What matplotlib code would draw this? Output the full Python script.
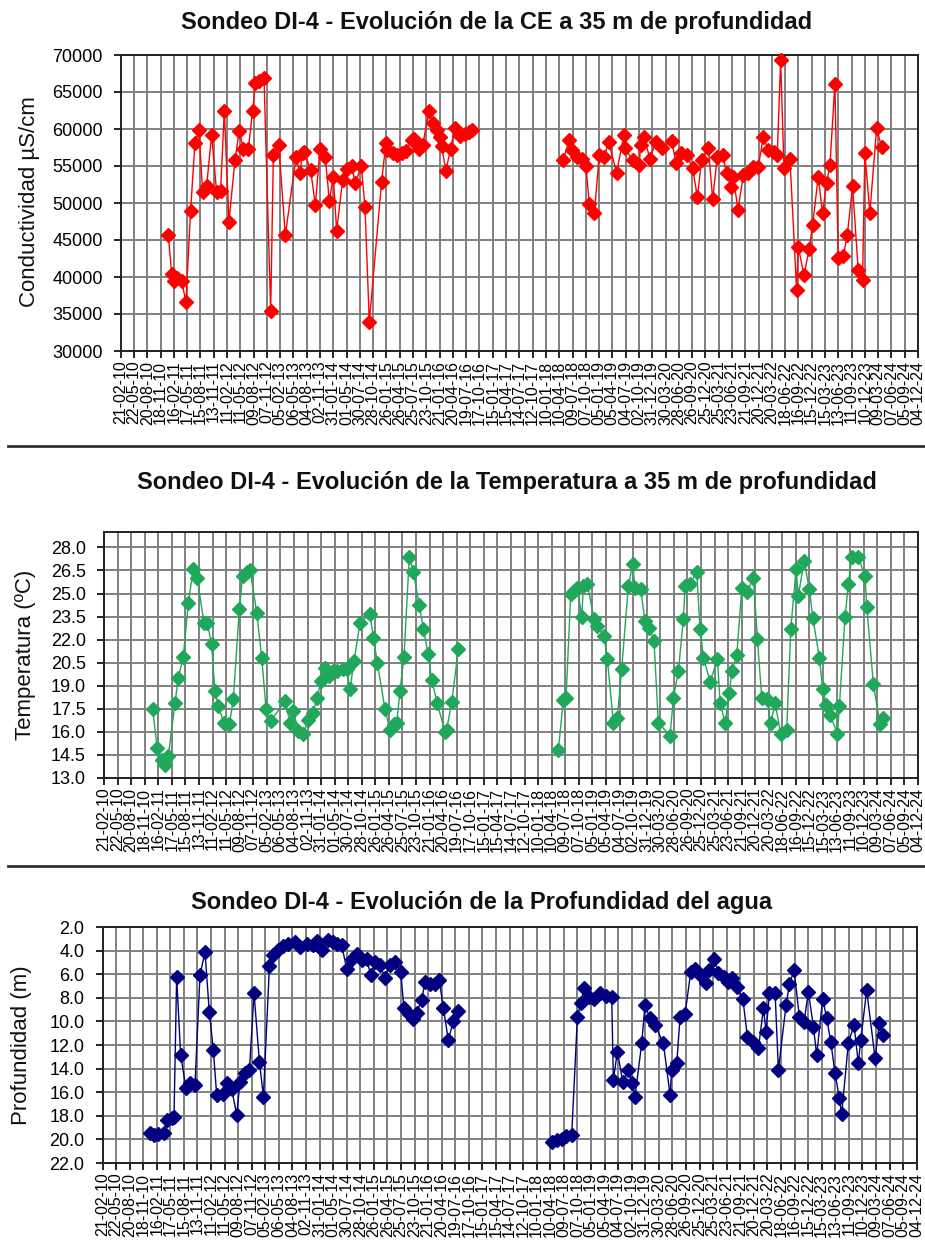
import matplotlib
matplotlib.use('Agg')
import matplotlib.pyplot as plt
import matplotlib.dates as mdates
from matplotlib.lines import Line2D
import pandas as pd

plt.rcParams['font.family'] = ['Liberation Sans', 'DejaVu Sans']

ce_year = [2011.023, 2011.085, 2011.128, 2011.190, 2011.270, 2011.350, 2011.437, 2011.517, 2011.591, 2011.660,
           2011.734, 2011.827, 2011.919, 2011.993, 2012.062, 2012.148, 2012.259, 2012.339, 2012.414, 2012.506,
           2012.587, 2012.636, 2012.710, 2012.797, 2012.920, 2012.970, 2013.069, 2013.192, 2013.390, 2013.464,
           2013.514, 2013.538, 2013.662, 2013.749, 2013.835, 2013.934, 2014.008, 2014.082, 2014.144, 2014.255,
           2014.342, 2014.422, 2014.490, 2014.601, 2014.670, 2014.750, 2014.978, 2015.059, 2015.083, 2015.182,
           2015.269, 2015.349, 2015.430, 2015.535, 2015.578, 2015.677, 2015.739, 2015.862, 2015.936, 2015.998,
           2016.060, 2016.091, 2016.171, 2016.258, 2016.338, 2016.431, 2016.524, 2016.604, 2016.647,
           2018.347, 2018.458, 2018.502, 2018.607, 2018.687, 2018.767, 2018.829, 2018.922, 2019.015, 2019.101,
           2019.188, 2019.336, 2019.472, 2019.491, 2019.633, 2019.756, 2019.781, 2019.843, 2019.954, 2020.065,
           2020.171, 2020.356, 2020.436, 2020.523, 2020.634, 2020.745, 2020.832, 2020.912, 2021.036, 2021.116,
           2021.202, 2021.302, 2021.375, 2021.450, 2021.499, 2021.586, 2021.685, 2021.777, 2021.870, 2021.963,
           2022.055, 2022.148, 2022.254, 2022.315, 2022.377, 2022.439, 2022.550, 2022.673, 2022.704, 2022.810,
           2022.908, 2022.970, 2023.075, 2023.155, 2023.230, 2023.292, 2023.384, 2023.446, 2023.539, 2023.613,
           2023.712, 2023.817, 2023.897, 2023.940, 2024.033, 2024.157, 2024.249]
ce_value = [45650, 40450, 39450, 39800, 39450, 36650, 48950, 58050, 59850, 51500,
            52300, 59200, 51500, 51650, 62450, 47450, 55800, 59750, 57350, 57350,
            62450, 66250, 66550, 66850, 35400, 56450, 57900, 45650, 56150, 54100,
            56700, 56900, 54450, 49700, 57350, 56150, 50300, 53550, 46250, 53100,
            54650, 55000, 52650, 55000, 49500, 33900, 52850, 58150, 57150, 56700,
            56450, 56700, 57050, 58500, 58700, 57350, 57800, 62450, 60750, 59850,
            58950, 57700, 54350, 57350, 60100, 59050, 59300, 59650, 59850,
            55800, 58500, 57150, 56150, 56000, 55000, 49900, 48600, 56500, 56150,
            58300, 54100, 59200, 57400, 55800, 55100, 57800, 58950, 56000, 58300,
            57400, 58400, 55400, 56700, 56500, 54700, 50800, 55800, 57400, 50500,
            56250, 56500, 54000, 52200, 53500, 49100, 53800, 54100, 54900, 54900,
            58950, 57150, 56900, 56500, 69300, 54700, 56000, 38300, 44100, 40250,
            43850, 47000, 53550, 48600, 52750, 55100, 66100, 42600, 42800, 45650,
            52250, 40900, 39650, 56700, 48700, 60100, 57600]

temp_year = [2011.024, 2011.108, 2011.187, 2011.248, 2011.308, 2011.429, 2011.490, 2011.581, 2011.672, 2011.762,
             2011.835, 2011.956, 2012.017, 2012.095, 2012.156, 2012.217, 2012.319, 2012.416, 2012.489, 2012.598,
             2012.659, 2012.731, 2012.792, 2012.913, 2013.004, 2013.082, 2013.167, 2013.428, 2013.518, 2013.579,
             2013.670, 2013.761, 2013.851, 2013.931, 2014.015, 2014.075, 2014.154, 2014.233, 2014.293, 2014.378,
             2014.475, 2014.548, 2014.608, 2014.681, 2014.790, 2014.972, 2015.032, 2015.105, 2015.244, 2015.335,
             2015.407, 2015.456, 2015.517, 2015.589, 2015.686, 2015.759, 2015.868, 2015.940, 2016.031, 2016.092,
             2016.195, 2016.334, 2016.365, 2016.455, 2016.576,
             2018.393, 2018.483, 2018.532, 2018.617, 2018.677, 2018.738, 2018.817, 2018.847, 2018.920, 2019.041,
             2019.101, 2019.222, 2019.283, 2019.392, 2019.464, 2019.543, 2019.664, 2019.743, 2019.785, 2019.888,
             2019.967, 2020.046, 2020.130, 2020.209, 2020.421, 2020.482, 2020.572, 2020.663, 2020.694, 2020.784,
             2020.905, 2020.966, 2021.027, 2021.148, 2021.281, 2021.329, 2021.420, 2021.499, 2021.541, 2021.632,
             2021.723, 2021.814, 2021.935, 2022.008, 2022.086, 2022.177, 2022.250, 2022.328, 2022.431, 2022.540,
             2022.613, 2022.710, 2022.752, 2022.855, 2022.952, 2023.013, 2023.134, 2023.194, 2023.255, 2023.327,
             2023.461, 2023.497, 2023.600, 2023.661, 2023.721, 2023.842, 2023.964, 2023.994, 2024.115, 2024.236,
             2024.296]
temp_value = [17.46, 14.96, 14.20, 13.87, 14.41, 17.85, 19.52, 20.89, 24.41, 26.59,
              25.98, 23.11, 23.07, 21.70, 18.65, 17.67, 16.59, 16.48, 18.11, 24.02,
              26.15, 26.41, 26.54, 23.76, 20.83, 17.50, 16.70, 18.00, 16.59, 17.35,
              16.04, 15.89, 16.76, 17.24, 18.22, 19.30, 20.17, 19.63, 19.96, 19.96,
              20.06, 20.06, 18.76, 20.61, 23.11, 23.65, 22.13, 20.50, 17.46, 16.15,
              16.48, 16.59, 18.65, 20.89, 27.35, 26.41, 24.24, 22.72, 21.04, 19.37,
              17.85, 15.98, 16.15, 17.93, 21.37,
              14.85, 18.07, 18.22, 24.96, 25.17, 25.33, 23.50, 25.50, 25.61, 23.33,
              22.89, 22.24, 20.72, 16.59, 16.91, 20.06, 25.50, 26.91, 25.39, 25.28,
              23.22, 22.78, 21.91, 16.59, 15.76, 18.22, 19.96, 23.33, 25.50, 25.61,
              26.41, 22.67, 20.83, 19.24, 20.76, 17.89, 16.59, 18.54, 19.96, 20.98,
              25.33, 25.07, 26.04, 22.02, 18.22, 18.11, 16.59, 17.89, 15.89, 16.15,
              22.67, 26.59, 24.85, 27.13, 25.28, 23.43, 20.83, 18.76, 17.78, 17.13,
              15.89, 17.67, 23.50, 25.61, 27.35, 27.35, 26.11, 24.15, 19.09, 16.48,
              16.91]

depth_year = [2011.003, 2011.076, 2011.154, 2011.257, 2011.305, 2011.396, 2011.439, 2011.487, 2011.560, 2011.657,
              2011.729, 2011.820, 2011.911, 2012.002, 2012.080, 2012.153, 2012.214, 2012.323, 2012.395, 2012.486,
              2012.577, 2012.637, 2012.728, 2012.807, 2012.891, 2012.988, 2013.061, 2013.170, 2013.243, 2013.333,
              2013.424, 2013.515, 2013.636, 2013.727, 2013.848, 2013.969, 2014.029, 2014.120, 2014.242, 2014.332,
              2014.405, 2014.483, 2014.574, 2014.665, 2014.756, 2014.847, 2014.937, 2015.010, 2015.089, 2015.180,
              2015.270, 2015.361, 2015.452, 2015.555, 2015.615, 2015.712, 2015.773, 2015.845, 2015.936, 2015.997,
              2016.087, 2016.178, 2016.257, 2016.330, 2016.420, 2016.511, 2016.602,
              2018.297, 2018.388, 2018.479, 2018.557, 2018.660, 2018.763, 2018.824, 2018.884, 2018.981, 2019.066,
              2019.175, 2019.284, 2019.387, 2019.417, 2019.490, 2019.587, 2019.690, 2019.750, 2019.810, 2019.932,
              2019.992, 2020.083, 2020.174, 2020.325, 2020.446, 2020.476, 2020.567, 2020.628, 2020.718, 2020.821,
              2020.900, 2020.991, 2021.100, 2021.160, 2021.245, 2021.324, 2021.427, 2021.506, 2021.566, 2021.669,
              2021.766, 2021.850, 2021.947, 2022.050, 2022.141, 2022.189, 2022.250, 2022.353, 2022.413, 2022.552,
              2022.613, 2022.698, 2022.794, 2022.879, 2022.958, 2023.049, 2023.109, 2023.218, 2023.291, 2023.364,
              2023.442, 2023.521, 2023.563, 2023.685, 2023.787, 2023.866, 2023.909, 2024.017, 2024.169, 2024.247,
              2024.308]
depth_value = [19.47, 19.61, 19.52, 19.47, 18.34, 18.20, 18.06, 6.23, 12.85, 15.66,
               15.18, 15.38, 6.08, 4.11, 9.18, 12.42, 16.23, 16.14, 15.18, 15.75,
               17.92, 15.10, 14.39, 14.11, 7.63, 13.41, 16.37, 5.32, 4.39, 3.97,
               3.63, 3.46, 3.27, 3.69, 3.41, 3.55, 3.18, 3.97, 3.07, 3.27,
               3.46, 3.55, 5.52, 4.68, 4.31, 4.82, 4.68, 6.08, 4.96, 5.24,
               6.28, 5.24, 4.96, 5.80, 8.90, 9.38, 9.83, 9.27, 8.20, 6.65,
               6.85, 6.79, 6.51, 8.90, 11.58, 9.94, 9.10,
               20.25, 20.03, 19.97, 19.75, 19.61, 9.66, 8.48, 7.13, 7.92, 8.06,
               7.63, 7.86, 7.97, 14.96, 12.56, 15.10, 14.11, 15.18, 16.37, 11.86,
               8.62, 9.75, 10.31, 11.86, 16.23, 14.11, 13.55, 9.60, 9.38, 5.80,
               5.52, 6.08, 6.73, 5.66, 4.68, 5.94, 6.23, 6.65, 6.28, 7.07,
               8.06, 11.30, 11.72, 12.28, 8.90, 10.87, 7.58, 7.58, 14.11, 8.62,
               6.85, 5.66, 9.60, 10.03, 7.49, 10.45, 12.85, 8.06, 9.75, 11.72,
               14.39, 16.51, 17.83, 11.80, 10.31, 13.55, 11.58, 7.35, 13.13, 10.11,
               11.15]

ce_ticks = [30000, 35000, 40000, 45000, 50000, 55000, 60000, 65000, 70000]
temp_ticks = [13.0, 14.5, 16.0, 17.5, 19.0, 20.5, 22.0, 23.5, 25.0, 26.5, 28.0]
depth_ticks = [2.0, 4.0, 6.0, 8.0, 10.0, 12.0, 14.0, 16.0, 18.0, 20.0, 22.0]

# eje de fechas: una marca cada 90 dias
tick_dates = pd.date_range('2010-02-21', '2024-12-04', freq='90D')


def year_to_date(years):
    out = []
    for y in years:
        yr = int(y)
        start = pd.Timestamp(yr, 1, 1)
        length = (pd.Timestamp(yr + 1, 1, 1) - start).days
        out.append(start + pd.Timedelta(days=(y - yr) * length))
    return pd.DatetimeIndex(out)


W, H = 925, 1240
fig = plt.figure(figsize=(W / 100, H / 100), dpi=100)


def panel(box, years, values, color, ylim, yticks, fmt, ylabel, title, title_xy, ylabel_xy):
    left, top, right, bottom = box
    ax = fig.add_axes([left / W, 1 - bottom / H, (right - left) / W, (bottom - top) / H])

    # cortar la linea donde falta el registro (mas de un año sin datos)
    s = pd.Series(values, index=year_to_date(years))
    seg = (s.index.to_series().diff() > pd.Timedelta(days=365)).cumsum().values
    for _, part in s.groupby(seg):
        ax.plot(part.index, part.values, color=color, lw=1.0, marker='D', ms=7,
                mec=color, mfc=color, zorder=3, clip_on=False)

    ax.set_xlim(tick_dates[0], tick_dates[-1])
    ax.set_xticks(tick_dates)
    ax.xaxis.set_major_formatter(mdates.DateFormatter('%d-%m-%y'))
    ax.set_ylim(*ylim)
    ax.set_yticks(yticks)
    ax.set_yticklabels([fmt.format(v) for v in yticks])

    ax.grid(True, color='#808080', lw=1.4)
    ax.set_axisbelow(True)
    for sp in ax.spines.values():
        sp.set_color('#222222')
        sp.set_linewidth(1.4)
    ax.tick_params(axis='x', direction='out', length=5, width=1.2, labelsize=11.5,
                   labelrotation=90, pad=2)
    ax.tick_params(axis='y', direction='out', length=5, width=1.2, labelsize=13, pad=8)

    fig.text(title_xy[0] / W, 1 - title_xy[1] / H, title, ha='center', va='center',
             fontsize=17, fontweight='bold', color='#111111')
    fig.text(ylabel_xy[0] / W, 1 - ylabel_xy[1] / H, ylabel, ha='center', va='center',
             rotation=90, fontsize=16, color='#111111')
    return ax


panel((120.7, 55, 918, 351), ce_year, ce_value, '#ff0000', (30000, 70000), ce_ticks, '{:.0f}',
      'Conductividad µS/cm', 'Sondeo DI-4 - Evolución de la CE a 35 m de profundidad',
      (497, 22), (30, 202))

panel((104, 532, 918, 778), temp_year, temp_value, '#1fa85a', (13.0, 29.0), temp_ticks, '{:.1f}',
      'Temperatura (ºC)', 'Sondeo DI-4 - Evolución de la Temperatura a 35 m de profundidad',
      (507, 482), (26, 655))

panel((102.5, 927, 916.7, 1163), depth_year, depth_value, '#000080', (22.0, 2.0), depth_ticks, '{:.1f}',
      'Profundidad (m)', 'Sondeo DI-4 - Evolución de la Profundidad del agua',
      (482, 902), (22, 1045))

# lineas de separacion entre graficos
for yy in (446, 866):
    fig.add_artist(Line2D([8 / W, 1], [1 - yy / H, 1 - yy / H], transform=fig.transFigure,
                          color='#333333', lw=2))

fig.savefig('out.png', dpi=100)
